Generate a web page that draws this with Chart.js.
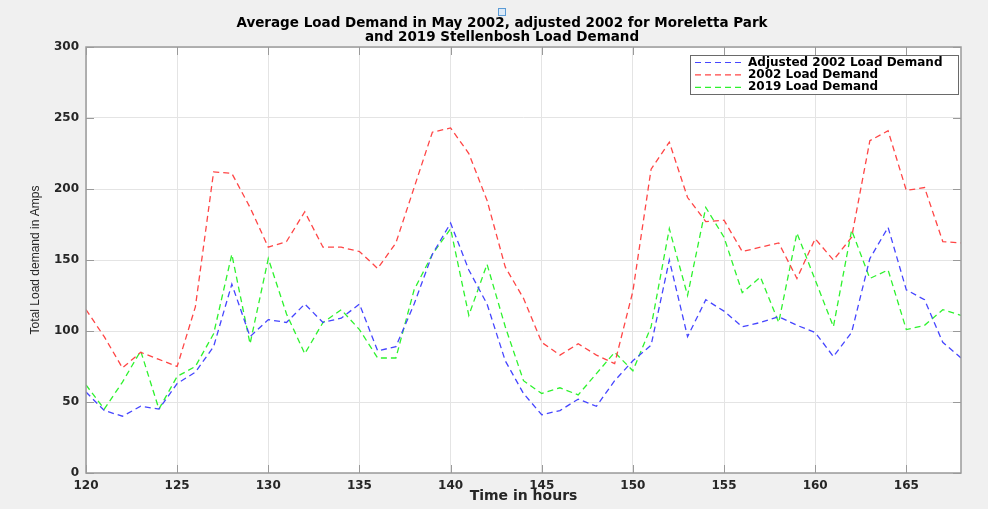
<!DOCTYPE html>
<html>
<head>
<meta charset="utf-8">
<title>Average Load Demand</title>
<script src="https://cdn.jsdelivr.net/npm/chart.js@4.4.1/dist/chart.umd.min.js"></script>
<style>
    body { margin: 0; background: #f0f0f0; }
    #wrap { position: relative; width: 988px; height: 509px; }
    #marker { position: absolute; left: 498px; top: 8px; width: 6px; height: 6px; border: 1px solid #5b9bd5; background: #dbe9f7; }
</style>
</head>
<body>
<div id="wrap">
    <canvas id="load-chart" width="988" height="509"></canvas>
    <div id="marker"></div>
</div>
<script>
// hours 120..168, one reading per hour
var hours = [120, 121, 122, 123, 124, 125, 126, 127, 128, 129, 130, 131, 132, 133, 134, 135, 136,
    137, 138, 139, 140, 141, 142, 143, 144, 145, 146, 147, 148, 149, 150, 151, 152,
    153, 154, 155, 156, 157, 158, 159, 160, 161, 162, 163, 164, 165, 166, 167, 168];

var adjusted2002 = [57, 44, 40, 47, 45, 63, 71, 89, 133, 96, 108, 106, 119, 106, 109, 119, 86,
    89, 119, 154, 176, 143, 119, 79, 56, 41, 44, 52, 47, 65, 79, 90, 150,
    96, 122, 114, 103, 106, 110, 104, 99, 82, 99, 151, 173, 129, 122, 92, 81];

var demand2002 = [115, 96, 74, 85, 80, 75, 117, 212, 211, 187, 159, 163, 184, 159, 159, 156, 144,
    162, 201, 240, 243, 225, 192, 145, 123, 92, 83, 91, 83, 77, 128, 214, 233,
    194, 177, 178, 156, 159, 162, 137, 165, 150, 166, 234, 241, 199, 201, 163, 162];

var demand2019 = [62, 45, 64, 86, 45, 68, 75, 98, 154, 91, 151, 112, 84, 106, 115, 101, 81,
    81, 129, 154, 172, 111, 147, 103, 65, 56, 60, 55, 70, 85, 72, 103, 172,
    125, 187, 166, 127, 138, 106, 169, 136, 103, 171, 137, 143, 101, 104, 115, 111];

var seriesNames = ["Adjusted 2002 Load Demand", "2002 Load Demand", "2019 Load Demand"];
var seriesColors = ["#4545ff", "#ff4545", "#2ef22e"];

var titleLines = ["Average Load Demand in May 2002, adjusted 2002 for Moreletta Park",
    "and 2019 Stellenbosh Load Demand"];

var tickFont = { family: "DejaVu Sans", weight: "bold", size: 12 };
var axisGray = "#9a9a9a";

function toPoints(values) {
    return values.map(function (v, i) {
        return { x: hours[i], y: v };
    });
}

function makeSeries(values, idx) {
    return {
        label: seriesNames[idx],
        data: toPoints(values),
        borderColor: seriesColors[idx],
        borderWidth: 1.3,
        borderDash: [6, 4],
        pointRadius: 0,
        tension: 0,
        fill: false
    };
}

function drawLegend(chart) {
    var ctx = chart.ctx;
    var a = chart.chartArea;
    var w = 268, h = 39;
    var left = a.right - w - 3, top = a.top + 8;

    ctx.save();
    ctx.fillStyle = "#ffffff";
    ctx.fillRect(left, top, w, h);
    ctx.strokeStyle = "#6a6a6a";
    ctx.lineWidth = 1;
    ctx.strokeRect(left + 0.5, top + 0.5, w, h);

    ctx.font = "bold 12px 'DejaVu Sans'";
    ctx.textBaseline = "middle";
    chart.data.datasets.forEach(function (ds, i) {
        var cy = top + 7.5 + i * 12.4;
        ctx.strokeStyle = ds.borderColor;
        ctx.lineWidth = 1.2;
        ctx.setLineDash(ds.borderDash);
        ctx.beginPath();
        ctx.moveTo(left + 5, cy);
        ctx.lineTo(left + 52, cy);
        ctx.stroke();
        ctx.setLineDash([]);
        ctx.fillStyle = "#000000";
        ctx.fillText(ds.label, left + 58, cy);
    });
    ctx.restore();
}

// matlab style: grey figure, white axes, box with inward ticks
var axesFrame = {
    id: "axesFrame",
    beforeDraw: function (chart) {
        var ctx = chart.ctx, a = chart.chartArea;
        ctx.save();
        ctx.fillStyle = "#f0f0f0";
        ctx.fillRect(0, 0, chart.width, chart.height);
        ctx.fillStyle = "#ffffff";
        ctx.fillRect(a.left, a.top, a.width, a.height);
        ctx.restore();
    },
    afterDatasetsDraw: function (chart) {
        var ctx = chart.ctx, a = chart.chartArea;
        var xs = chart.scales.x, ys = chart.scales.y;
        var len = 8;

        ctx.save();
        ctx.strokeStyle = axisGray;
        ctx.lineWidth = 1;
        ctx.beginPath();
        xs.ticks.forEach(function (t) {
            var px = Math.round(xs.getPixelForValue(t.value)) + 0.5;
            ctx.moveTo(px, a.bottom); ctx.lineTo(px, a.bottom - len);
            ctx.moveTo(px, a.top); ctx.lineTo(px, a.top + len);
        });
        ys.ticks.forEach(function (t) {
            var py = Math.round(ys.getPixelForValue(t.value)) + 0.5;
            ctx.moveTo(a.left, py); ctx.lineTo(a.left + len, py);
            ctx.moveTo(a.right, py); ctx.lineTo(a.right - len, py);
        });
        ctx.stroke();
        ctx.lineWidth = 1.5;
        ctx.strokeRect(a.left, a.top, a.width, a.height);
        ctx.restore();

        drawLegend(chart);
    }
};

new Chart(document.getElementById("load-chart"), {
    type: "line",
    data: {
        datasets: [
            makeSeries(adjusted2002, 0),
            makeSeries(demand2002, 1),
            makeSeries(demand2019, 2)
        ]
    },
    options: {
        responsive: false,
        animation: false,
        devicePixelRatio: 1,
        events: [],
        layout: { padding: { left: 16, right: 0, top: 0, bottom: 0 } },
        plugins: {
            legend: { display: false },
            tooltip: { enabled: false },
            title: {
                display: true,
                text: titleLines,
                color: "#000000",
                font: { family: "DejaVu Sans", weight: "bold", size: 13.5, lineHeight: 1.0 },
                padding: { top: 17, bottom: 3 }
            }
        },
        scales: {
            x: {
                type: "linear",
                min: 120,
                max: 168,
                ticks: {
                    stepSize: 5,
                    includeBounds: false,
                    autoSkip: false,
                    maxRotation: 0,
                    padding: 6,
                    color: "#262626",
                    font: tickFont
                },
                grid: { color: "#e4e4e4", drawTicks: false },
                border: { display: false },
                title: {
                    display: true,
                    text: "Time in hours",
                    color: "#262626",
                    font: { family: "DejaVu Sans", weight: "bold", size: 14 },
                    padding: { top: 0, bottom: 4 }
                },
                afterFit: function (s) { s.height = 36; }
            },
            y: {
                min: 0,
                max: 300,
                ticks: {
                    stepSize: 50,
                    padding: 7,
                    color: "#262626",
                    font: tickFont
                },
                grid: { color: "#e4e4e4", drawTicks: false },
                border: { display: false },
                title: {
                    display: true,
                    text: "Total Load demand in Amps",
                    color: "#262626",
                    font: { family: "Liberation Sans", size: 12 },
                    padding: { top: 12, bottom: 0 }
                },
                afterFit: function (s) { s.width = 70; }
            },
            // empty right axis, only keeps the margin on the right
            yRight: {
                position: "right",
                display: true,
                ticks: { display: false },
                grid: { display: false },
                border: { display: false },
                afterFit: function (s) { s.width = 27; }
            }
        }
    },
    plugins: [axesFrame]
});
</script>
</body>
</html>
